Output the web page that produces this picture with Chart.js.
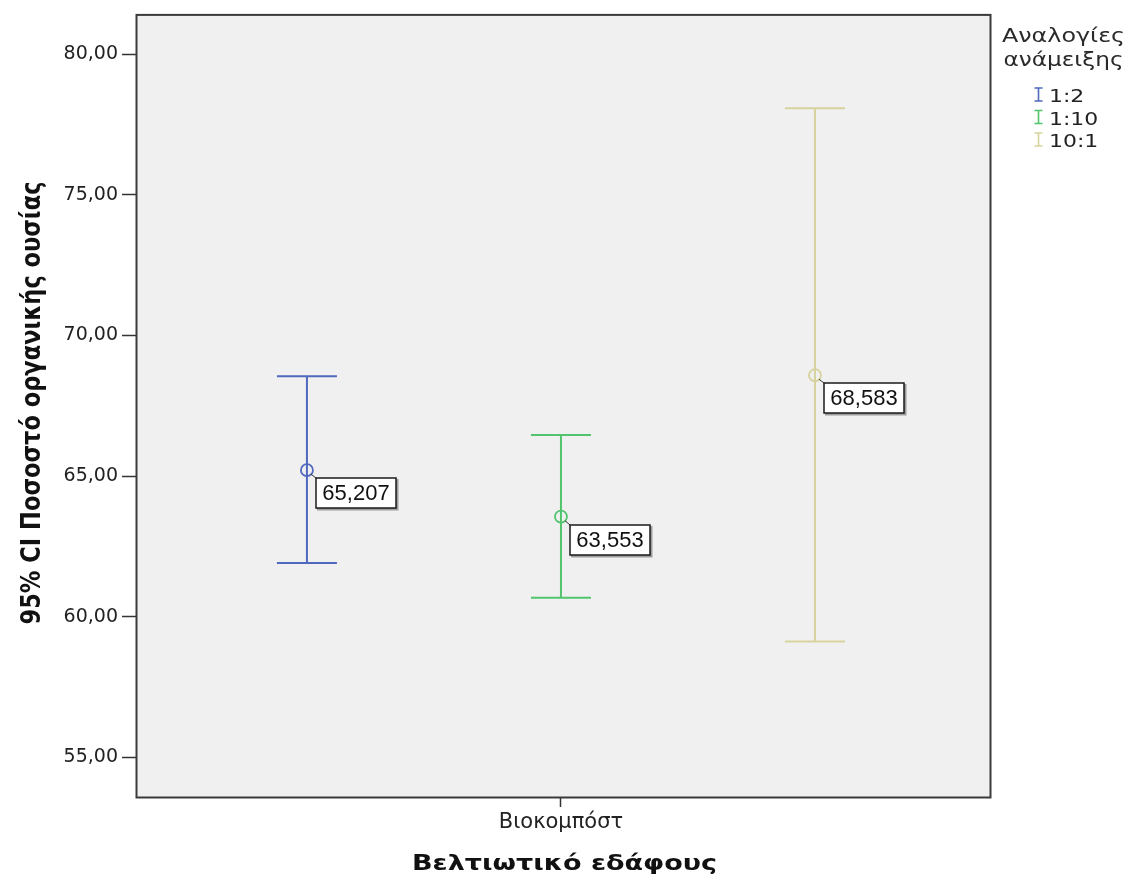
<!DOCTYPE html>
<html>
<head>
<meta charset="utf-8">
<script src="https://cdn.jsdelivr.net/npm/chart.js@4.4.1/dist/chart.umd.min.js"></script>
<style>
  html, body { margin: 0; padding: 0; background: #ffffff; }
  #wrap { width: 1136px; height: 880px; position: relative; }
</style>
</head>
<body>
<div id="wrap"><canvas id="c" width="1136" height="880"></canvas></div>
<script>
// Mean and 95% confidence interval of organic matter (%) per mixing ratio
const categories = ['Βιοκομπόστ'];
const seriesNames = ['1:2', '1:10', '10:1'];
const means = [65.207, 63.553, 68.583];
const lowerCI = [61.91, 60.67, 59.11];
const upperCI = [68.55, 66.46, 78.08];
const yTickValues = [55, 60, 65, 70, 75, 80];

const xTitle = 'Βελτιωτικό εδάφους';
const yTitle = '95% CI Ποσοστό οργανικής ουσίας';
const legendTitle = ['Αναλογίες', 'ανάμειξης'];

// styling
const seriesColors = ['#5068be', '#52c46e', '#d7d39e'];
const SANS = '"DejaVu Sans", Verdana, sans-serif';
const ARIAL = '"Liberation Sans", Arial, sans-serif';
const fmt = (v, d) => v.toFixed(d).replace('.', ',');

// the three ratios sit side by side inside the single category
const clusterX = (cat, s) => cat + (s - 1);

const datasets = seriesNames.map((name, s) => ({
  label: name,
  data: [{ x: clusterX(0, s), y: means[s] }],
  pointStyle: 'circle',
  pointRadius: 6,
  pointBorderWidth: 1.8,
  borderColor: seriesColors[s],
  backgroundColor: 'rgba(0,0,0,0)',
  showLine: false
}));

// grey plotting area
const plotBackground = {
  id: 'plotBackground',
  beforeDraw(chart) {
    const { ctx, chartArea: a } = chart;
    ctx.save();
    ctx.fillStyle = '#f0f0f0';
    ctx.fillRect(a.left, a.top, a.right - a.left, a.bottom - a.top);
    ctx.restore();
  }
};

// whiskers with caps for the confidence intervals
const errorBars = {
  id: 'errorBars',
  beforeDatasetsDraw(chart) {
    const { ctx } = chart;
    const y = chart.scales.y;
    ctx.save();
    ctx.lineWidth = 2;
    chart.data.datasets.forEach((ds, s) => {
      const pt = chart.getDatasetMeta(s).data[0];
      const x = pt.x;
      const yl = y.getPixelForValue(lowerCI[s]);
      const yu = y.getPixelForValue(upperCI[s]);
      const cap = 30;
      ctx.strokeStyle = seriesColors[s];
      ctx.beginPath();
      ctx.moveTo(x, yu); ctx.lineTo(x, yl);
      ctx.moveTo(x - cap, yu); ctx.lineTo(x + cap, yu);
      ctx.moveTo(x - cap, yl); ctx.lineTo(x + cap, yl);
      ctx.stroke();
    });
    ctx.restore();
  }
};

// boxed mean values next to each marker
const meanLabels = {
  id: 'meanLabels',
  afterDatasetsDraw(chart) {
    const { ctx } = chart;
    ctx.save();
    ctx.font = '22px ' + ARIAL;
    chart.data.datasets.forEach((ds, s) => {
      const pt = chart.getDatasetMeta(s).data[0];
      const txt = fmt(means[s], 3);
      const tw = ctx.measureText(txt).width;
      const bx = Math.round(pt.x + 9), by = Math.round(pt.y + 8);
      const bw = Math.round(tw + 13), bh = 30;
      ctx.strokeStyle = '#333';
      ctx.lineWidth = 1;
      ctx.beginPath();
      ctx.moveTo(pt.x + 4, pt.y + 4); ctx.lineTo(bx, by);
      ctx.stroke();
      ctx.fillStyle = 'rgba(90,90,90,0.55)';
      ctx.fillRect(bx + 1, by + 1, bw + 1.5, bh + 1.5);
      ctx.fillStyle = '#ffffff';
      ctx.fillRect(bx, by, bw, bh);
      ctx.strokeStyle = '#1a1a1a';
      ctx.lineWidth = 1.5;
      ctx.strokeRect(bx, by, bw, bh);
      ctx.fillStyle = '#111';
      ctx.textAlign = 'center';
      ctx.textBaseline = 'middle';
      ctx.fillText(txt, bx + bw / 2, by + bh / 2 + 1);
    });
    ctx.restore();
  }
};

// text drawn to a given width by stretching horizontally
function fitText(ctx, text, cx, cy, width) {
  const w = ctx.measureText(text).width;
  ctx.save();
  ctx.translate(cx, cy);
  ctx.scale(width / w, 1);
  ctx.textAlign = 'center';
  ctx.fillText(text, 0, 0);
  ctx.restore();
}

// frame, axis titles and the legend
const decorations = {
  id: 'decorations',
  afterDraw(chart) {
    const { ctx, chartArea: a } = chart;
    ctx.save();
    ctx.strokeStyle = '#3a3a3a';
    ctx.lineWidth = 2;
    ctx.strokeRect(a.left - 0.5, a.top - 0.5, a.right - a.left + 1, a.bottom - a.top + 1);

    ctx.fillStyle = '#111';
    ctx.textBaseline = 'alphabetic';
    ctx.font = 'bold 22px ' + SANS;
    fitText(ctx, xTitle, (a.left + a.right) / 2 + 1, 870, 305);

    ctx.save();
    ctx.translate(40, 403);
    ctx.rotate(-Math.PI / 2);
    ctx.font = 'bold 27px ' + SANS;
    fitText(ctx, yTitle, 0, 0, 443);
    ctx.restore();

    ctx.fillStyle = '#2a2a2a';
    ctx.font = '20px ' + SANS;
    fitText(ctx, legendTitle[0], 1063.5, 42, 123);
    fitText(ctx, legendTitle[1], 1063.5, 66, 120);

    ctx.font = '18px ' + SANS;
    seriesNames.forEach((name, s) => {
      const base = 102 + s * 22.5;
      const ix = 1038.5, top = base - 14, bot = base - 1;
      ctx.strokeStyle = seriesColors[s];
      ctx.lineWidth = 1.6;
      ctx.beginPath();
      ctx.moveTo(ix, top); ctx.lineTo(ix, bot);
      ctx.moveTo(ix - 4, top); ctx.lineTo(ix + 4, top);
      ctx.moveTo(ix - 4, bot); ctx.lineTo(ix + 4, bot);
      ctx.stroke();
      ctx.save();
      ctx.translate(1049, base);
      ctx.scale(1.22, 1);
      ctx.fillStyle = '#222';
      ctx.textAlign = 'left';
      ctx.fillText(name, 0, 0);
      ctx.restore();
    });
    ctx.restore();
  }
};

new Chart(document.getElementById('c'), {
  type: 'scatter',
  data: { datasets },
  options: {
    responsive: false,
    animation: false,
    devicePixelRatio: 1,
    layout: { padding: { top: 12, right: 146, left: 0, bottom: 0 } },
    plugins: { legend: { display: false }, tooltip: { enabled: false } },
    scales: {
      x: {
        type: 'linear',
        min: -1.669,
        max: 1.689,
        afterBuildTicks: s => { s.ticks = categories.map((c, i) => ({ value: i })); },
        afterFit: s => { s.height = 83; },
        grid: { drawOnChartArea: false, drawTicks: true, tickLength: 10, tickColor: '#333', tickWidth: 1.5 },
        border: { display: false },
        ticks: {
          autoSkip: false, maxRotation: 0, padding: 3,
          color: '#222', font: { family: SANS, size: 21 },
          callback: v => categories[v] ?? ''
        }
      },
      y: {
        min: 53.584,
        max: 81.381,
        afterBuildTicks: s => { s.ticks = yTickValues.map(v => ({ value: v })); },
        afterFit: s => { s.width = 137; },
        grid: { drawOnChartArea: false, drawTicks: true, tickLength: 15, tickColor: '#333', tickWidth: 1.5 },
        border: { display: false },
        ticks: {
          padding: 4, color: '#222', font: { family: SANS, size: 19 },
          callback: v => fmt(v, 2)
        }
      }
    }
  },
  plugins: [plotBackground, errorBars, meanLabels, decorations]
});
</script>
</body>
</html>
